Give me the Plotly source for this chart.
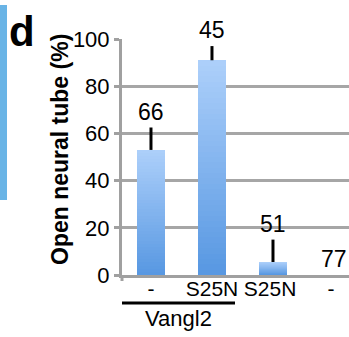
import plotly.graph_objects as go

# ---- data ----
categories = ["-", "S25N", "S25N ", "- "]
values = [53, 91, 5.5, 0]
err_plus = [9.5, 6, 9.5, 0]
n_labels = ["66", "45", "51", "77"]
group_label = "Vangl2"
y_title = "Open neural tube (%)"
y_ticks = [0, 20, 40, 60, 80, 100]

W, H = 349, 337
ML, MR, MT, MB = 122, 0, 39, 62

top_rgb = (172, 207, 250)
bot_rgb = (88, 152, 226)
N = 40

fig = go.Figure()
# gradient bars: overlaid bars, progressively shorter and darker
for k in range(N):
    f = k / (N - 1)
    c = tuple(round(top_rgb[i] + (bot_rgb[i] - top_rgb[i]) * f) for i in range(3))
    fig.add_trace(go.Bar(
        x=categories,
        y=[v * (N - k) / N for v in values],
        width=0.47,
        marker=dict(color="rgb(%d,%d,%d)" % c, line=dict(width=0)),
        hoverinfo="skip", showlegend=False,
    ))

# error bars (upper only)
fig.add_trace(go.Scatter(
    x=categories, y=values, mode="markers",
    marker=dict(size=1, opacity=0),
    error_y=dict(type="data", array=err_plus, arrayminus=[0] * len(values),
                 color="black", thickness=3, width=0, symmetric=False),
    showlegend=False, hoverinfo="skip",
))

font = "Liberation Sans, Arial, sans-serif"
annotations = []
for cat, v, e, lab in zip(categories, values, err_plus, n_labels):
    annotations.append(dict(x=cat, y=v + e, xref="x", yref="y", text=lab,
                            showarrow=False, yanchor="middle", yshift=16,
                            font=dict(family=font, size=23, color="black")))

pw = W - ML - MR
ph = H - MT - MB
annotations += [
    dict(xref="paper", yref="paper", x=(60 - ML) / pw, y=(H - MB - 150) / ph,
         text="<b>" + y_title + "</b>", textangle=-90, showarrow=False,
         xanchor="center", yanchor="middle",
         font=dict(family=font, size=23, color="black")),
    dict(xref="paper", yref="paper", x=(178 - ML) / pw, y=-(318 - (H - MB)) / ph,
         text=group_label, showarrow=False, xanchor="center", yanchor="middle",
         font=dict(family=font, size=22, color="black")),
    dict(xref="paper", yref="paper", x=(22 - ML) / pw, y=(H - MB - 31) / ph,
         text="<b>d</b>", showarrow=False, xanchor="center", yanchor="middle",
         font=dict(family=font, size=42, color="black")),
]

shapes = [
    # underline for group
    dict(type="line", xref="paper", yref="paper",
         x0=0, x1=(235 - ML) / pw, y0=-(303 - (H - MB)) / ph, y1=-(303 - (H - MB)) / ph,
         line=dict(color="black", width=3)),
    # blue strip from neighbouring panel
    dict(type="rect", xref="paper", yref="paper",
         x0=(0 - ML) / pw, x1=(7 - ML) / pw,
         y0=(H - MB - 200) / ph, y1=(H - MB - 5) / ph,
         fillcolor="#69b4e6", line=dict(width=0), layer="below"),
    # small downward extension of the y axis below zero
    dict(type="line", xref="paper", yref="paper", x0=0, x1=0,
         y0=0, y1=-6 / ph, line=dict(color="#a0a0a0", width=3)),
]

fig.update_layout(
    width=W, height=H,
    margin=dict(l=ML, r=MR, t=MT, b=MB),
    paper_bgcolor="white", plot_bgcolor="white",
    barmode="overlay", bargap=0,
    showlegend=False,
    annotations=annotations, shapes=shapes,
    font=dict(family=font, size=22, color="black"),
)
fig.update_xaxes(
    type="category", categoryorder="array", categoryarray=categories,
    range=[-0.475, 3.246], showgrid=False, zeroline=False,
    showline=True, linecolor="#a0a0a0", linewidth=3,
    ticks="", ticklabelstandoff=-7,
    tickfont=dict(family=font, size=21, color="black"),
)
fig.update_yaxes(
    range=[0, 100], tickvals=y_ticks, showgrid=True, gridcolor="#a6a6a6", gridwidth=2.5,
    zeroline=False, showline=True, linecolor="#a0a0a0", linewidth=3,
    ticks="outside", ticklen=5, tickwidth=2.5, tickcolor="#a0a0a0",
    tickfont=dict(family=font, size=22, color="black"),
)

fig.write_html("out.html", config={"displayModeBar": False},
               post_script="document.body.style.margin='0';document.body.style.overflow='hidden';")
